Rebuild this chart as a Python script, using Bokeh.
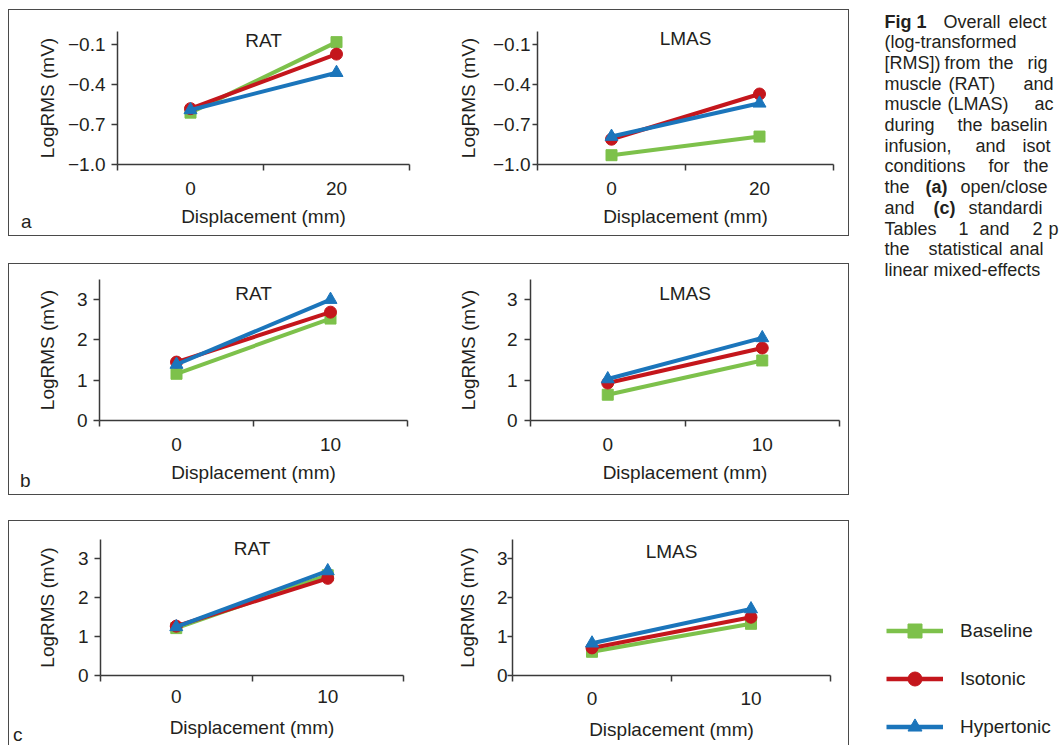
from bokeh.plotting import figure
from bokeh.models import (Range1d, FixedTicker, Label, Legend, LegendItem,
                          CustomJSTickFormatter, Spacer, Div)
from bokeh.layouts import row, column
from bokeh.embed import file_html
from bokeh.resources import INLINE
from bokeh.core.properties import value

FONT = "Liberation Sans"
INK = "#231f20"
AX = "#3a3a3a"

# ---------------- data ----------------
series_names = ["Baseline", "Isotonic", "Hypertonic"]
series_colors = ["#7dc14b", "#c4161c", "#1b75bb"]
series_markers = ["square", "circle", "triangle"]
series_sizes = [11, 12, 13]

disp_a = ["0", "20"]
disp_bc = ["0", "10"]

a_rat_baseline = [-0.61, -0.08]
a_rat_isotonic = [-0.58, -0.17]
a_rat_hypertonic = [-0.59, -0.31]
a_lmas_baseline = [-0.93, -0.79]
a_lmas_isotonic = [-0.81, -0.47]
a_lmas_hypertonic = [-0.79, -0.54]

b_rat_baseline = [1.16, 2.53]
b_rat_isotonic = [1.45, 2.69]
b_rat_hypertonic = [1.39, 3.00]
b_lmas_baseline = [0.64, 1.49]
b_lmas_isotonic = [0.93, 1.80]
b_lmas_hypertonic = [1.03, 2.05]

c_rat_baseline = [1.22, 2.58]
c_rat_isotonic = [1.27, 2.50]
c_rat_hypertonic = [1.25, 2.69]
c_lmas_baseline = [0.61, 1.33]
c_lmas_isotonic = [0.71, 1.50]
c_lmas_hypertonic = [0.83, 1.71]

yrange_a = (-1.0, 0.0)
yticks_a = [-1.0, -0.7, -0.4, -0.1]
yticklabels_a = ["\u22121.0", "\u22120.7", "\u22120.4", "\u22120.1"]
yrange_bc = (0.0, 3.5)
yticks_bc = [0, 1, 2, 3]
yticklabels_bc = ["0", "1", "2", "3"]

LABEL_CODE = """
const i = tks.findIndex((t) => Math.abs(t - tick) < 1e-6);
return i >= 0 ? labs[i] : "";
"""


def make_sub(title, cats, ys, yrange, yticks, yticklabels, g):
    w = g["bl"] + g["fw"] + g["br"]
    h = g["bt"] + g["fh"] + g["bb"]
    xr = (-0.5, len(cats) - 0.5)
    p = figure(width=w, height=h, x_range=Range1d(*xr), y_range=Range1d(*yrange),
               min_border_left=g["bl"], min_border_right=g["br"],
               min_border_top=g["bt"], min_border_bottom=g["bb"],
               output_backend="svg", toolbar_location=None, tools="")
    p.outline_line_color = None
    p.xgrid.visible = False
    p.ygrid.visible = False
    p.background_fill_color = "white"
    p.border_fill_color = "white"

    xs = list(range(len(cats)))
    for vals, col, mk, sz in zip(ys, series_colors, series_markers, series_sizes):
        p.line(xs, vals, line_width=4, line_color=col)
        p.scatter(xs, vals, marker=mk, size=sz, fill_color=col, line_color=col)

    xa = p.xaxis[0]
    xa.ticker = FixedTicker(ticks=xs, minor_ticks=[i - 0.5 for i in range(len(cats) + 1)])
    xa.formatter = CustomJSTickFormatter(args=dict(tks=xs, labs=cats), code=LABEL_CODE)
    xa.major_tick_line_color = None
    xa.major_tick_out = 0
    xa.major_tick_in = 0
    xa.minor_tick_line_color = AX
    xa.minor_tick_line_width = 1.5
    xa.minor_tick_out = 6
    xa.minor_tick_in = 0
    xa.major_label_standoff = g["xls"]
    xa.axis_label = "Displacement (mm)"
    xa.axis_label_standoff = g["xas"]

    ya = p.yaxis[0]
    ya.ticker = FixedTicker(ticks=yticks)
    ya.formatter = CustomJSTickFormatter(args=dict(tks=yticks, labs=yticklabels), code=LABEL_CODE)
    ya.major_tick_line_color = AX
    ya.major_tick_line_width = 1.5
    ya.major_tick_out = g["yto"]
    ya.major_tick_in = 0
    ya.minor_tick_line_color = None
    ya.major_label_standoff = g["yls"]
    ya.axis_label = "LogRMS (mV)"
    ya.axis_label_standoff = g["yas"]

    for ax in (xa, ya):
        ax.axis_line_color = AX
        ax.axis_line_width = 1.5
        ax.major_label_text_font = FONT
        ax.major_label_text_font_size = "19px"
        ax.major_label_text_color = INK
        ax.axis_label_text_font = FONT
        ax.axis_label_text_font_size = "19px"
        ax.axis_label_text_font_style = "normal"
        ax.axis_label_text_color = INK

    def ydata(py):
        return yrange[1] - (py - g["bt"]) / g["fh"] * (yrange[1] - yrange[0])

    p.add_layout(Label(x=(xr[0] + xr[1]) / 2, y=ydata(g["bt"] + g["tdy"]), text=title,
                       text_align="center", text_baseline="middle",
                       text_font=FONT, text_font_size="19px", text_color=INK))
    return p


def letter_div(letter, height, left, top):
    html = ('<div style="position:relative; left:%dpx; top:%dpx; font-family:\'%s\'; '
            'font-size:19px; line-height:19px; color:%s;">%s</div>' % (left, top, FONT, INK, letter))
    return Div(text=html, width=24, height=height, margin=0)


# geometry of each subplot (borders / frame sizes / standoffs, in px)
g_a_l = dict(bl=84, fw=292, br=20, bt=18, fh=136, bb=71, yto=6, yls=6, yas=7,
             xls=11, xas=8, tdy=9.5)
g_a_r = dict(bl=108, fw=296, br=15, bt=21, fh=133, bb=71, yto=5, yls=2, yas=11,
             xls=11, xas=8, tdy=6.5)
g_b_l = dict(bl=66, fw=308, br=23, bt=14, fh=143, bb=73, yto=6, yls=6, yas=16,
             xls=11, xas=8, tdy=14.5)
g_b_r = dict(bl=100, fw=309, br=9, bt=15, fh=141, bb=74, yto=6, yls=7, yas=25,
             xls=11, xas=8, tdy=13.5)
g_c_l = dict(bl=67, fw=303, br=27, bt=18, fh=138, bb=68, yto=6, yls=6, yas=17,
             xls=8, xas=11, tdy=9)
g_c_r = dict(bl=82, fw=318, br=18, bt=14, fh=140, bb=70, yto=5, yls=0, yas=16,
             xls=10, xas=11, tdy=12)

pa_l = make_sub("RAT", disp_a, [a_rat_baseline, a_rat_isotonic, a_rat_hypertonic],
                yrange_a, yticks_a, yticklabels_a, g_a_l)
pa_r = make_sub("LMAS", disp_a, [a_lmas_baseline, a_lmas_isotonic, a_lmas_hypertonic],
                yrange_a, yticks_a, yticklabels_a, g_a_r)
pb_l = make_sub("RAT", disp_bc, [b_rat_baseline, b_rat_isotonic, b_rat_hypertonic],
                yrange_bc, yticks_bc, yticklabels_bc, g_b_l)
pb_r = make_sub("LMAS", disp_bc, [b_lmas_baseline, b_lmas_isotonic, b_lmas_hypertonic],
                yrange_bc, yticks_bc, yticklabels_bc, g_b_r)
pc_l = make_sub("RAT", disp_bc, [c_rat_baseline, c_rat_isotonic, c_rat_hypertonic],
                yrange_bc, yticks_bc, yticklabels_bc, g_c_l)
pc_r = make_sub("LMAS", disp_bc, [c_lmas_baseline, c_lmas_isotonic, c_lmas_hypertonic],
                yrange_bc, yticks_bc, yticklabels_bc, g_c_r)

box = {"outline": "1px solid #4a4a4a"}
panel_a = row([letter_div("a", 225, 12, 202), pa_l, pa_r], styles=box)
panel_b = row([letter_div("b", 230, 11, 207), pb_l, pb_r], styles=box)
panel_c = row([letter_div("c", 224, 4, 204), pc_l, pc_r], styles=box)

left_col = column([Spacer(width=839, height=10), panel_a, Spacer(width=839, height=29),
                   panel_b, Spacer(width=839, height=27), panel_c])

# ---------------- caption + legend ----------------
cap = figure(width=210, height=745, x_range=Range1d(849, 1059), y_range=Range1d(745, 0),
             min_border=0, min_border_left=0, min_border_right=0, min_border_top=0,
             min_border_bottom=0, x_axis_location=None, y_axis_location=None,
             output_backend="svg", toolbar_location=None, tools="")
cap.outline_line_color = None
cap.grid.visible = False
cap.background_fill_color = "white"
cap.border_fill_color = "white"

caption_words = [
    (0, 884, "Fig 1", True), (0, 943, "Overall", False), (0, 1008, "elect", False),
    (1, 884, "(log-transformed", False),
    (2, 884, "[RMS])", False), (2, 944, "from", False), (2, 988, "the", False), (2, 1027, "rig", False),
    (3, 884, "muscle", False), (3, 948, "(RAT)", False), (3, 1023, "and", False),
    (4, 884, "muscle", False), (4, 947, "(LMAS)", False), (4, 1034, "ac", False),
    (5, 884, "during", False), (5, 957, "the", False), (5, 990, "baselin", False),
    (6, 884, "infusion,", False), (6, 975, "and", False), (6, 1022, "isot", False),
    (7, 884, "conditions", False), (7, 988, "for", False), (7, 1023, "the", False),
    (8, 884, "the", False), (8, 925, "(a)", True), (8, 960, "open/close", False),
    (9, 884, "and", False), (9, 933, "(c)", True), (9, 968, "standardi", False),
    (10, 884, "Tables", False), (10, 958, "1", False), (10, 979, "and", False),
    (10, 1032, "2", False), (10, 1048, "p", False),
    (11, 884, "the", False), (11, 928, "statistical", False), (11, 1009, "anal", False),
    (12, 884, "linear mixed-effects", False),
]
BASE0, LEAD = 21.0, 20.7
for bold in (False, True):
    items = [w for w in caption_words if w[3] == bold]
    cap.text(x=[w[1] for w in items], y=[BASE0 + w[0] * LEAD for w in items],
             text=[w[2] for w in items], text_font=value(FONT), text_font_size="18px",
             text_font_style="bold" if bold else "normal", text_color=INK,
             text_align="left", text_baseline="alphabetic")

# legend renderers: series of panel c, drawn outside this frame (only their legend glyphs show)
legend_items = []
xs_leg = list(range(len(disp_bc)))
for name, col, mk, vals in zip(series_names, series_colors, series_markers,
                               [c_rat_baseline, c_rat_isotonic, c_rat_hypertonic]):
    rl = cap.line(x=xs_leg, y=vals, line_width=4.5, line_color=col)
    rs = cap.scatter(x=xs_leg, y=vals, marker=mk, fill_color=col, line_color=col)
    legend_items.append(LegendItem(label=name, renderers=[rl, rs]))

legend = Legend(items=legend_items, location=(37, 1), orientation="vertical",
                glyph_width=57, glyph_height=35, label_height=35, spacing=13,
                padding=0, margin=0, label_standoff=17,
                border_line_color=None, background_fill_alpha=0,
                label_text_font=FONT, label_text_font_size="19px", label_text_color=INK)
cap.add_layout(legend)

root = row([Spacer(width=9, height=745), left_col, Spacer(width=1, height=745), cap])

open("out.html", "w").write(file_html(root, INLINE))
